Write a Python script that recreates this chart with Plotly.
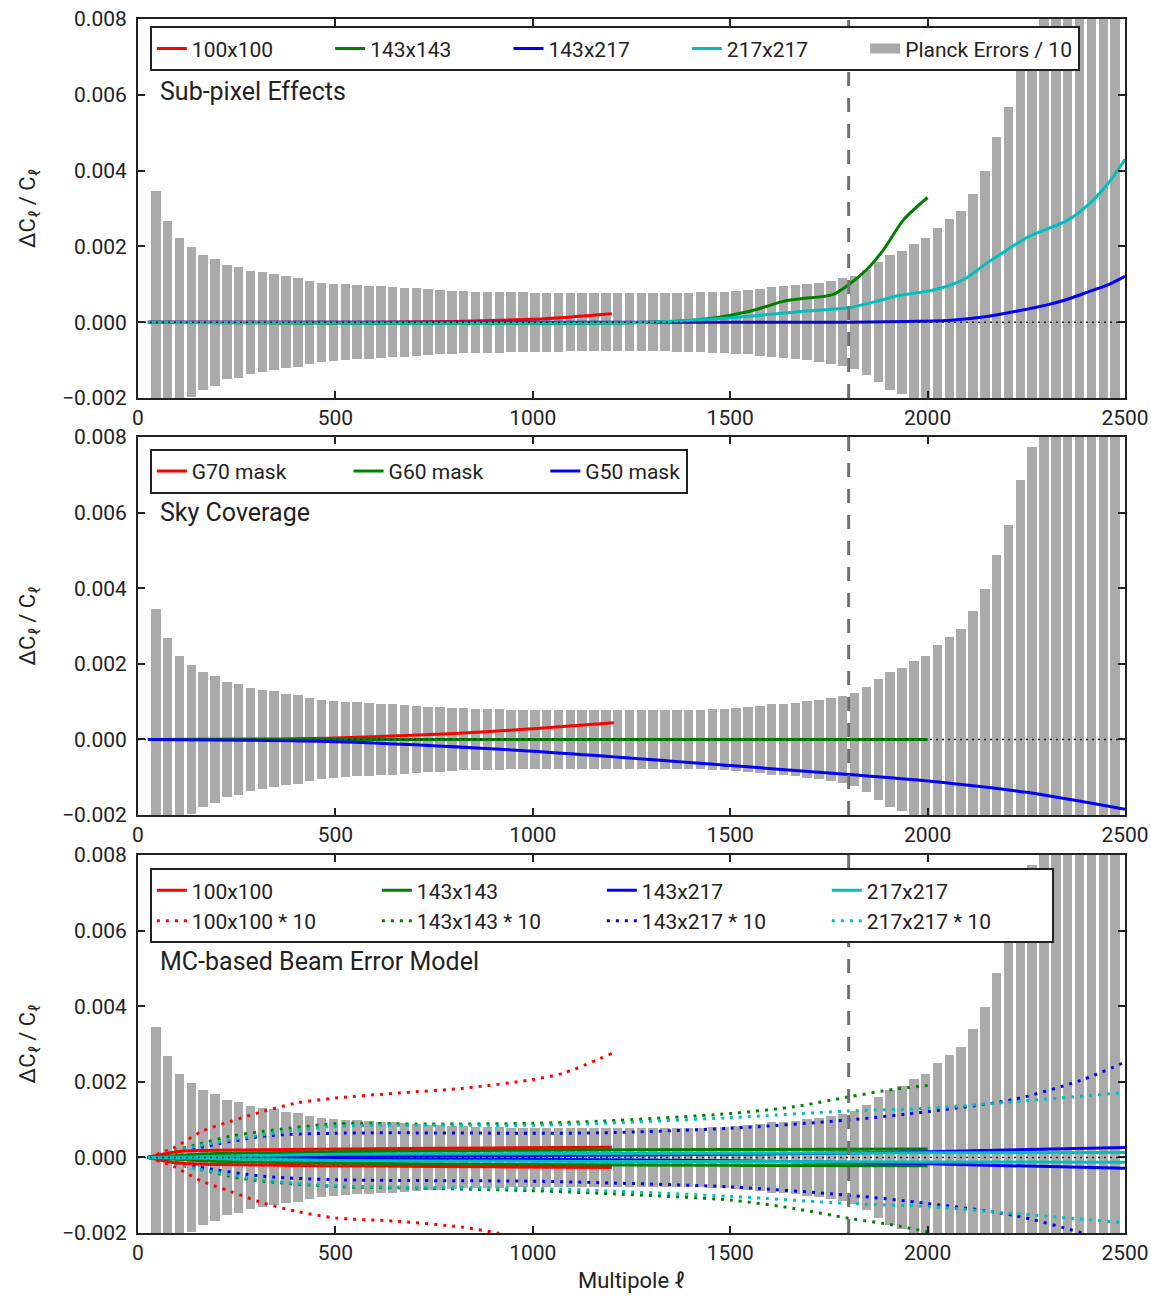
import plotly.graph_objects as go

# ---------------- data ----------------
ell_bins = list(range(45, 2476, 30))
planck_err = [0.00345, 0.00268, 0.00222, 0.00198, 0.00178, 0.00167, 0.00151, 0.00146, 0.00136, 0.00132,
              0.00127, 0.00121, 0.00117, 0.00110, 0.00104, 0.00102, 0.00100, 0.00098, 0.00096, 0.00095,
              0.00093, 0.00091, 0.00089, 0.00087, 0.00085, 0.00083, 0.00082, 0.00081, 0.00080, 0.00080,
              0.00079, 0.00079, 0.00078, 0.00078, 0.00078, 0.00077, 0.00077, 0.00077, 0.00077, 0.00077,
              0.00077, 0.00077, 0.00077, 0.00077, 0.00078, 0.00078, 0.00079, 0.00080, 0.00081, 0.00083,
              0.00085, 0.00088, 0.00093, 0.00095, 0.00097, 0.00101, 0.00104, 0.00110, 0.00116, 0.00123,
              0.00139, 0.00159, 0.00178, 0.00189, 0.00207, 0.00222, 0.00249, 0.00272, 0.00293, 0.00339,
              0.00399, 0.00489, 0.00567, 0.00686, 0.00774, 0.0090, 0.0105, 0.0120, 0.0140, 0.0160,
              0.0185, 0.0210]

# Panel 1: sub-pixel effects
p1_red_l = [25, 600, 800, 1000, 1100, 1200]
p1_red_v = [0, 0, 0.00002, 0.00008, 0.00014, 0.00022]
p1_green_l = [25, 1300, 1450, 1550, 1635, 1680, 1760, 1800, 1846, 1888, 1939, 2000]
p1_green_v = [0, 0, 0.0001, 0.00029, 0.00055, 0.00062, 0.00073, 0.00099, 0.00139, 0.00191, 0.00270, 0.00329]
p1_blue_l = [25, 1800, 1950, 2060, 2150, 2230, 2300, 2353, 2412, 2460, 2500]
p1_blue_v = [0, 0, 0.00002, 0.00005, 0.00015, 0.0003, 0.00045, 0.0006, 0.00082, 0.001, 0.00121]
p1_cyan_l = [25, 1300, 1450, 1550, 1700, 1800, 1870, 1930, 2000, 2058, 2100, 2142, 2200, 2252, 2300, 2353,
             2412, 2460, 2500]
p1_cyan_v = [0, 0, 0.00008, 0.00016, 0.0003, 0.00038, 0.00055, 0.00071, 0.00082, 0.00098, 0.00118, 0.00150,
             0.0019, 0.00224, 0.00245, 0.00268, 0.00315, 0.0037, 0.0043]

# Panel 2: sky coverage
p2_red_l = [25, 300, 500, 790, 1000, 1205]
p2_red_v = [0, 0.00001, 0.00004, 0.00015, 0.00028, 0.00044]
p2_green_l = [25, 2000]
p2_green_v = [0, 0]
p2_blue_l = [25, 500, 1000, 1500, 1800, 2000, 2250, 2500]
p2_blue_v = [0, -0.00006, -0.00031, -0.00069, -0.00093, -0.0011, -0.0014, -0.00185]

# Panel 3: MC-based beam error model (solid: +/-, dotted: *10 +/-)
p3_red_l = [25, 100, 300, 600, 900, 1200]
p3_red_up = [0, 0.00015, 0.0002, 0.00023, 0.00025, 0.00027]
p3_red_dn = [0, -0.00015, -0.0002, -0.00023, -0.00025, -0.00027]
p3_green_l = [25, 200, 500, 1000, 1500, 2000]
p3_green_up = [0, 0.0001, 0.00015, 0.00019, 0.00021, 0.00022]
p3_green_dn = [0, -0.0001, -0.00015, -0.00019, -0.00021, -0.00022]
p3_blue_l = [25, 500, 1000, 1500, 2000, 2500]
p3_blue_up = [0, 0.00003, 0.00005, 0.00008, 0.00015, 0.00026]
p3_blue_dn = [0, -0.00003, -0.00005, -0.00009, -0.00017, -0.00029]
p3_cyan_l = [25, 500, 1000, 1500, 2000, 2500]
p3_cyan_up = [0, 0.00008, 0.0001, 0.00011, 0.00012, 0.00013]
p3_cyan_dn = [0, -0.00008, -0.0001, -0.00011, -0.00012, -0.00013]

p3_red10_up_l = [25, 90, 162, 234, 318, 403, 500, 656, 825, 994, 1078, 1200]
p3_red10_up = [0, 0.00025, 0.00069, 0.00095, 0.00122, 0.00144, 0.00157, 0.0017, 0.00183, 0.00205, 0.00223, 0.00275]
p3_red10_dn_l = [25, 90, 162, 234, 318, 403, 500, 656, 825, 910, 1000, 1200]
p3_red10_dn = [0, -0.00024, -0.00063, -0.0009, -0.00121, -0.00143, -0.0016, -0.00169, -0.00185, -0.002, -0.00218, -0.0026]
p3_green10_l = [25, 150, 234, 318, 500, 740, 994, 1174, 1500, 1661, 1800, 1913, 2000]
p3_green10_up = [0, 0.00034, 0.00056, 0.00069, 0.00089, 0.00088, 0.0009, 0.00096, 0.00116, 0.00134, 0.0016, 0.0018, 0.0019]
p3_green10_dn = [0, -0.0003, -0.0005, -0.00063, -0.00077, -0.00082, -0.00088, -0.00095, -0.00113, -0.00135, -0.00161, -0.00179, -0.00197]
p3_blue10_l = [25, 150, 318, 500, 1000, 1174, 1500, 1800, 2000, 2217, 2391, 2500]
p3_blue10_up = [0, 0.00025, 0.00056, 0.00064, 0.00064, 0.00065, 0.00077, 0.00099, 0.00121, 0.00153, 0.00205, 0.00252]
p3_blue10_dn = [0, -0.00025, -0.0005, -0.00059, -0.00063, -0.00067, -0.00078, -0.001, -0.00122, -0.00153, -0.002, -0.0024]
p3_cyan10_l = [25, 150, 318, 500, 1000, 1174, 1500, 1800, 2000, 2217, 2500]
p3_cyan10_up = [0, 0.0003, 0.0006, 0.00082, 0.00085, 0.0009, 0.00105, 0.00123, 0.0013, 0.00147, 0.00172]
p3_cyan10_dn = [0, -0.0003, -0.0006, -0.00075, -0.00082, -0.00088, -0.00103, -0.00122, -0.0013, -0.00148, -0.00173]

x_ticks = [0, 500, 1000, 1500, 2000, 2500]
y_ticks = [-0.002, 0.0, 0.002, 0.004, 0.006, 0.008]

# ---------------- style ----------------
RED, GREEN, BLUE, CYAN = "#ff0000", "#008000", "#0000ff", "#00bfbf"
BAR = "#aaaaaa"
INK = "#222222"
FONT = "Roboto"
DOT = "3px,6px"
NB = "\u00a0"  # non-breaking space used to pad legend entries to equal spacing


def pad(s, n):
    return s + NB * n


fig = go.Figure()


def add_bars(xa, ya):
    fig.add_trace(go.Bar(x=ell_bins, y=[2 * e for e in planck_err], base=[-e for e in planck_err],
                         width=24, marker=dict(color=BAR, line=dict(width=0)),
                         name="Planck Errors / 10", showlegend=False,
                         xaxis=xa, yaxis=ya))


def add_line(xs, ys, color, name, xa, ya, leg, rank, show=True, dash="solid", width=3):
    fig.add_trace(go.Scatter(x=xs, y=ys, mode="lines", name=name, showlegend=show,
                             legend=leg, legendrank=rank,
                             line=dict(color=color, width=width, dash=dash, shape="spline", smoothing=0.8),
                             xaxis=xa, yaxis=ya))


# panel 1
add_bars("x", "y")
add_line(p1_red_l, p1_red_v, RED, pad("100x100", 10), "x", "y", "legend", 1)
add_line(p1_green_l, p1_green_v, GREEN, pad("143x143", 10), "x", "y", "legend", 2)
add_line(p1_blue_l, p1_blue_v, BLUE, pad("143x217", 10), "x", "y", "legend", 3)
add_line(p1_cyan_l, p1_cyan_v, CYAN, pad("217x217", 10), "x", "y", "legend", 4)
# legend key for the error bars (wide grey patch, as in the reference)
fig.add_trace(go.Scatter(x=[None], y=[None], mode="lines", name="Planck Errors / 10",
                         line=dict(color=BAR, width=16), legend="legend", legendrank=10,
                         xaxis="x", yaxis="y"))

# panel 2
add_bars("x2", "y2")
add_line(p2_red_l, p2_red_v, RED, pad("G70 mask", 11), "x2", "y2", "legend2", 1)
add_line(p2_green_l, p2_green_v, GREEN, pad("G60 mask", 11), "x2", "y2", "legend2", 2)
add_line(p2_blue_l, p2_blue_v, BLUE, "G50 mask", "x2", "y2", "legend2", 3)

# panel 3
add_bars("x3", "y3")
add_line(p3_red10_up_l, p3_red10_up, RED, "100x100 * 10", "x3", "y3", "legend3", 5, dash=DOT)
add_line(p3_red10_dn_l, p3_red10_dn, RED, "100x100 * 10", "x3", "y3", "legend3", 5, show=False, dash=DOT)
add_line(p3_green10_l, p3_green10_up, GREEN, "143x143 * 10", "x3", "y3", "legend3", 6, dash=DOT)
add_line(p3_green10_l, p3_green10_dn, GREEN, "143x143 * 10", "x3", "y3", "legend3", 6, show=False, dash=DOT)
add_line(p3_blue10_l, p3_blue10_up, BLUE, "143x217 * 10", "x3", "y3", "legend3", 7, dash=DOT)
add_line(p3_blue10_l, p3_blue10_dn, BLUE, "143x217 * 10", "x3", "y3", "legend3", 7, show=False, dash=DOT)
add_line(p3_cyan10_l, p3_cyan10_up, CYAN, "217x217 * 10", "x3", "y3", "legend3", 8, dash=DOT)
add_line(p3_cyan10_l, p3_cyan10_dn, CYAN, "217x217 * 10", "x3", "y3", "legend3", 8, show=False, dash=DOT)
add_line(p3_red_l, p3_red_up, RED, "100x100", "x3", "y3", "legend3", 1)
add_line(p3_red_l, p3_red_dn, RED, "100x100", "x3", "y3", "legend3", 1, show=False)
add_line(p3_green_l, p3_green_up, GREEN, "143x143", "x3", "y3", "legend3", 2)
add_line(p3_green_l, p3_green_dn, GREEN, "143x143", "x3", "y3", "legend3", 2, show=False)
add_line(p3_blue_l, p3_blue_up, BLUE, "143x217", "x3", "y3", "legend3", 3)
add_line(p3_blue_l, p3_blue_dn, BLUE, "143x217", "x3", "y3", "legend3", 3, show=False)
add_line(p3_cyan_l, p3_cyan_up, CYAN, "217x217", "x3", "y3", "legend3", 4)
add_line(p3_cyan_l, p3_cyan_dn, CYAN, "217x217", "x3", "y3", "legend3", 4, show=False)

# ---------------- axes ----------------
axis_common = dict(showline=True, linecolor=INK, linewidth=2, mirror="allticks",
                   ticks="inside", ticklen=7, tickwidth=1.5, tickcolor=INK, automargin=False,
                   showgrid=False, zeroline=False, tickfont=dict(family=FONT, size=21, color=INK))

domains = {"": [0.6878, 1.0], "2": [0.3443, 0.6557], "3": [0.0, 0.3114]}
ytitle = "ΔC<sub>ℓ</sub> / C<sub>ℓ</sub>"
layout_axes = {}
for k, dom in domains.items():
    layout_axes["xaxis" + k] = dict(axis_common, range=[0, 2500], tickvals=x_ticks,
                                    anchor="y" + k, domain=[0, 1])
    layout_axes["yaxis" + k] = dict(axis_common, range=[-0.002, 0.008], tickvals=y_ticks,
                                    tickformat=".3f", anchor="x" + k, domain=dom, ticklabelstandoff=5,
                                    title=dict(text=ytitle, font=dict(family=FONT, size=22, color=INK),
                                               standoff=20))
layout_axes["xaxis3"]["title"] = dict(text="Multipole ℓ", font=dict(family=FONT, size=22, color=INK),
                                      standoff=8)

legend_common = dict(orientation="h", bgcolor="white", bordercolor=INK, borderwidth=2,
                     font=dict(family=FONT, size=21, color=INK), xanchor="left", yanchor="top",
                     entrywidthmode="pixels", itemwidth=30)

fig.update_layout(
    width=1151, height=1296,
    margin=dict(l=138, r=26, t=19, b=63, autoexpand=False),
    paper_bgcolor="white", plot_bgcolor="white",
    barmode="overlay", bargap=0,
    showlegend=True,
    legend=dict(legend_common, x=0.012, y=0.994),
    legend2=dict(legend_common, x=0.012, y=0.646),
    legend3=dict(legend_common, x=0.012, y=0.3005, entrywidth=180),
    **layout_axes,
)

# reference lines and panel labels
labels = [("", "Sub-pixel Effects", 0.81), ("2", "Sky Coverage", 0.80), ("3", "MC-based Beam Error Model", 0.717)]
for k, text, ypos in labels:
    fig.add_shape(type="line", xref="x" + k, yref="y" + k,
                  x0=0, x1=2500, y0=0, y1=0, line=dict(color=INK, width=1.5, dash="2px,4px"))
    fig.add_shape(type="line", xref="x" + k, yref="y" + k + " domain",
                  x0=1800, x1=1800, y0=0, y1=1, line=dict(color="#707070", width=3, dash="14px,12px"))
    fig.add_annotation(xref="x" + k + " domain", yref="y" + k + " domain", x=0.02, y=ypos,
                       text=text, showarrow=False, xanchor="left", yanchor="middle",
                       font=dict(family=FONT, size=25, color=INK))

fig.write_html("out.html")
